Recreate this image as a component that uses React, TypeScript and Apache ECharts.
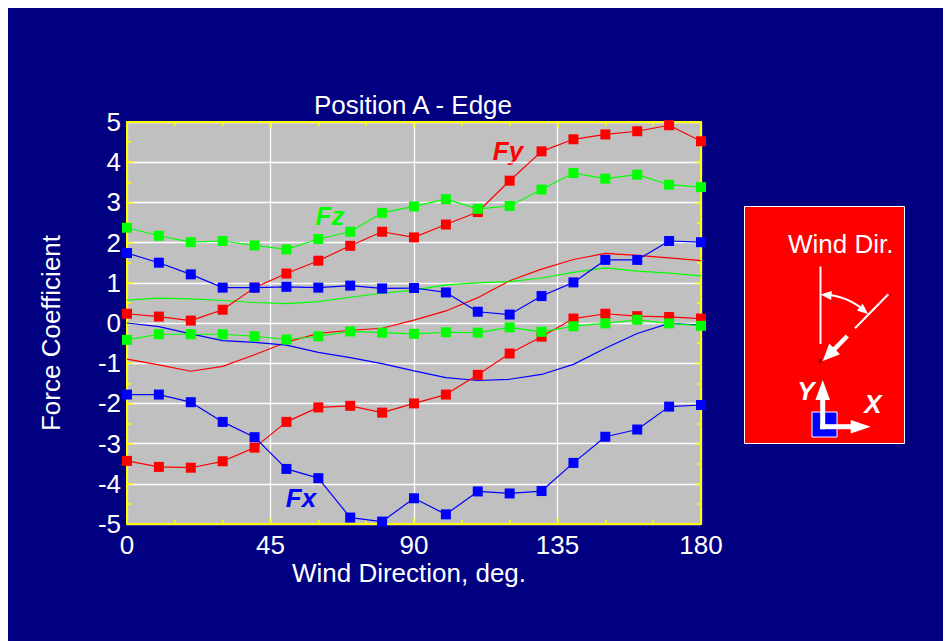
import React, { useEffect, useRef } from "react";
import * as echarts from "echarts";

// ---------- data ----------
const angles = [0, 10, 20, 30, 40, 50, 60, 70, 80, 90, 100, 110, 120, 130, 140, 150, 160, 170, 180];

const fyMax = [0.23, 0.16, 0.06, 0.33, 0.88, 1.23, 1.55, 1.92, 2.27, 2.13, 2.45, 2.76, 3.54, 4.27, 4.57, 4.69, 4.77, 4.92, 4.52];
const fyMean = [-0.9, -1.04, -1.2, -1.08, -0.79, -0.48, -0.26, -0.18, -0.13, 0.07, 0.3, 0.63, 1.05, 1.34, 1.58, 1.73, 1.68, 1.62, 1.55];
const fyMin = [-3.43, -3.58, -3.6, -3.44, -3.1, -2.46, -2.1, -2.06, -2.23, -2.0, -1.78, -1.29, -0.76, -0.34, 0.11, 0.23, 0.17, 0.15, 0.11];

const fzMax = [2.37, 2.17, 2.01, 2.04, 1.93, 1.83, 2.09, 2.27, 2.74, 2.9, 3.08, 2.84, 2.91, 3.32, 3.73, 3.59, 3.69, 3.44, 3.38];
const fzMean = [0.57, 0.62, 0.6, 0.56, 0.51, 0.48, 0.53, 0.64, 0.74, 0.82, 0.95, 1.0, 1.03, 1.12, 1.26, 1.37, 1.29, 1.24, 1.17];
const fzMin = [-0.42, -0.28, -0.28, -0.28, -0.33, -0.41, -0.33, -0.21, -0.24, -0.27, -0.23, -0.24, -0.11, -0.22, -0.08, -0.01, 0.08, -0.01, -0.07];

const fxMax = [1.74, 1.5, 1.21, 0.88, 0.88, 0.9, 0.88, 0.93, 0.86, 0.87, 0.76, 0.28, 0.21, 0.67, 1.01, 1.57, 1.57, 2.04, 2.01];
const fxMean = [0.0, -0.09, -0.27, -0.44, -0.48, -0.55, -0.73, -0.86, -1.01, -1.19, -1.36, -1.43, -1.4, -1.28, -1.03, -0.63, -0.26, -0.01, -0.05];
const fxMin = [-1.78, -1.78, -1.97, -2.46, -2.84, -3.63, -3.86, -4.84, -4.94, -4.36, -4.76, -4.19, -4.24, -4.18, -3.48, -2.83, -2.65, -2.08, -2.04];

const xTicks = { min: 0, max: 180, interval: 45 };
const yTicks = { min: -5, max: 5, interval: 1 };

const titleText = "Position A - Edge";
const xName = "Wind Direction, deg.";
const yName = "Force Coefficient";

// ---------- styles ----------
const FONT = "'Liberation Sans', Arial, Helvetica, sans-serif";
const NAVY = "#000080";
const YELLOW = "#ffff00";
const RED = "#ff0000";
const GREEN = "#00ff00";
const BLUE = "#0000ff";

function arrowHead(tx: number, ty: number, dx: number, dy: number, len: number, hw: number) {
  const n = Math.hypot(dx, dy);
  const ux = dx / n;
  const uy = dy / n;
  const bx = tx - ux * len;
  const by = ty - uy * len;
  return [
    [tx, ty],
    [bx - uy * hw, by + ux * hw],
    [bx + uy * hw, by - ux * hw],
  ];
}

function textEl(text: string, x: number, y: number, font: string, fill: string, align = "center", rotation = 0) {
  return {
    type: "text",
    x,
    y,
    rotation,
    silent: true,
    style: {
      text,
      font,
      fill,
      align,
      textAlign: align,
      verticalAlign: "middle",
      textVerticalAlign: "middle",
    },
  };
}

function buildGraphic() {
  const els: any[] = [];
  // title, axis names & series labels
  els.push(textEl(titleText, 405, 97, `26px ${FONT}`, "#ffffff"));
  els.push(textEl(xName, 401, 565, `26px ${FONT}`, "#ffffff"));
  els.push(textEl(yName, 43, 325, `26px ${FONT}`, "#ffffff", "center", Math.PI / 2));
  els.push(textEl("Fy", 500, 143, `italic bold 26px ${FONT}`, RED));
  els.push(textEl("Fz", 322, 208, `italic bold 26px ${FONT}`, GREEN));
  els.push(textEl("Fx", 293, 490, `italic bold 26px ${FONT}`, BLUE));

  // right panel
  els.push({
    type: "rect",
    silent: true,
    shape: { x: 736.5, y: 198.5, width: 160, height: 237 },
    style: { fill: RED, stroke: "#ffffff", lineWidth: 1 },
  });
  els.push(textEl("Wind Dir.", 780, 236, `26px ${FONT}`, "#ffffff", "left"));
  // reference vertical line
  els.push({
    type: "line",
    silent: true,
    shape: { x1: 812.5, y1: 258.5, x2: 812.5, y2: 336 },
    style: { stroke: "#ffffff", lineWidth: 2 },
  });
  // inclined line
  els.push({
    type: "line",
    silent: true,
    shape: { x1: 880.3, y1: 286.3, x2: 847, y2: 320.3 },
    style: { stroke: "#ffffff", lineWidth: 2 },
  });
  // angle arc
  const cx = 812.5;
  const cy = 354;
  const r = 67.5;
  const a0 = -Math.PI / 2;
  const a1 = -Math.PI / 4;
  els.push({
    type: "arc",
    silent: true,
    shape: { cx, cy, r, startAngle: a0 + 0.05, endAngle: a1 - 0.05, clockwise: true },
    style: { stroke: "#ffffff", lineWidth: 2, fill: null },
  });
  const d = 0.163;
  const t0 = [cx + r * Math.cos(a0), cy + r * Math.sin(a0)];
  const b0 = [cx + r * Math.cos(a0 + d), cy + r * Math.sin(a0 + d)];
  els.push({
    type: "polygon",
    silent: true,
    shape: { points: arrowHead(t0[0], t0[1], t0[0] - b0[0], t0[1] - b0[1], 11, 4.5) },
    style: { fill: "#ffffff" },
  });
  const t1 = [cx + r * Math.cos(a1), cy + r * Math.sin(a1)];
  const b1 = [cx + r * Math.cos(a1 - d), cy + r * Math.sin(a1 - d)];
  els.push({
    type: "polygon",
    silent: true,
    shape: { points: arrowHead(t1[0], t1[1], t1[0] - b1[0], t1[1] - b1[1], 11, 4.5) },
    style: { fill: "#ffffff" },
  });
  // wind arrow
  const wTip = [814.7, 353];
  const wTail = [839.3, 328];
  const wdx = wTip[0] - wTail[0];
  const wdy = wTip[1] - wTail[1];
  const wn = Math.hypot(wdx, wdy);
  const headLen = 17;
  els.push({
    type: "line",
    silent: true,
    shape: {
      x1: wTail[0],
      y1: wTail[1],
      x2: wTip[0] - (wdx / wn) * (headLen - 2),
      y2: wTip[1] - (wdy / wn) * (headLen - 2),
    },
    style: { stroke: "#ffffff", lineWidth: 4.5 },
  });
  els.push({
    type: "polygon",
    silent: true,
    shape: { points: arrowHead(wTip[0], wTip[1], wdx, wdy, headLen, 7.5) },
    style: { fill: "#ffffff" },
  });
  els.push({
    type: "line",
    silent: true,
    shape: { x1: 812, y1: 351, x2: 812, y2: 355 },
    style: { stroke: "#000000", lineWidth: 1 },
  });

  // coordinate system icon
  els.push({
    type: "rect",
    silent: true,
    shape: { x: 804, y: 404, width: 25, height: 25 },
    style: { fill: BLUE, stroke: "#ffffff", lineWidth: 1 },
  });
  const ox = 814.7;
  const oy = 418.7;
  els.push({
    type: "line",
    silent: true,
    shape: { x1: ox, y1: oy + 2.5, x2: ox, y2: 390 },
    style: { stroke: "#ffffff", lineWidth: 5 },
  });
  els.push({
    type: "polygon",
    silent: true,
    shape: { points: arrowHead(ox, 372, 0, -1, 20, 7.3) },
    style: { fill: "#ffffff" },
  });
  els.push({
    type: "line",
    silent: true,
    shape: { x1: ox - 2.5, y1: oy, x2: 844, y2: oy },
    style: { stroke: "#ffffff", lineWidth: 5 },
  });
  els.push({
    type: "polygon",
    silent: true,
    shape: { points: arrowHead(862.7, oy, 1, 0, 20, 6.7) },
    style: { fill: "#ffffff" },
  });
  els.push(textEl("Y", 798, 383, `italic bold 26px ${FONT}`, "#ffffff"));
  els.push(textEl("X", 865, 396, `italic bold 26px ${FONT}`, "#ffffff"));
  return els;
}

function pairs(values: number[]) {
  return angles.map((a, i) => [a, values[i]]);
}

function markedSeries(name: string, values: number[], color: string) {
  return {
    name,
    type: "line",
    data: pairs(values),
    symbol: "rect",
    symbolSize: 10,
    showSymbol: true,
    lineStyle: { color, width: 1.2 },
    itemStyle: { color },
    silent: true,
    z: 3,
  };
}

function plainSeries(name: string, values: number[], color: string) {
  return {
    name,
    type: "line",
    data: pairs(values),
    symbol: "none",
    showSymbol: false,
    lineStyle: { color, width: 1.2 },
    itemStyle: { color },
    silent: true,
    z: 2,
  };
}

function axisCommon(minorSplit: number) {
  return {
    axisLine: { show: true, onZero: false, lineStyle: { color: YELLOW, width: 2 } },
    axisTick: { show: true, inside: true, length: 6, lineStyle: { color: YELLOW, width: 1.5 } },
    minorTick: { show: true, splitNumber: minorSplit, length: 4, lineStyle: { color: YELLOW, width: 1.5 } },
  };
}

export default function App() {
  const ref = useRef<HTMLDivElement>(null);
  useEffect(() => {
    document.documentElement.style.overflow = "hidden";
    if (!ref.current) return;
    const chart = echarts.init(ref.current, undefined, { renderer: "svg" });
    chart.setOption({
      animation: false,
      backgroundColor: NAVY,
      textStyle: { fontFamily: FONT },
      grid: {
        show: true,
        left: 119,
        top: 114,
        width: 574,
        height: 402,
        backgroundColor: "#c0c0c0",
        borderWidth: 0,
        containLabel: false,
      },
      xAxis: [
        {
          type: "value",
          position: "bottom",
          ...xTicks,
          ...axisCommon(3),
          splitLine: { show: true, lineStyle: { color: "#ffffff", width: 1.3 } },
          axisLabel: { show: true, color: "#ffffff", fontSize: 26, fontFamily: FONT, margin: 8 },
        },
        {
          type: "value",
          position: "top",
          ...xTicks,
          ...axisCommon(3),
          splitLine: { show: false },
          axisLabel: { show: false },
        },
      ],
      yAxis: [
        {
          type: "value",
          position: "left",
          ...yTicks,
          ...axisCommon(2),
          splitLine: { show: true, lineStyle: { color: "#ffffff", width: 1.3 } },
          axisLabel: { show: true, color: "#ffffff", fontSize: 26, fontFamily: FONT, margin: 6 },
        },
        {
          type: "value",
          position: "right",
          ...yTicks,
          ...axisCommon(2),
          splitLine: { show: false },
          axisLabel: { show: false },
        },
      ],
      series: [
        plainSeries("Fy mean", fyMean, RED),
        plainSeries("Fz mean", fzMean, GREEN),
        plainSeries("Fx mean", fxMean, BLUE),
        markedSeries("Fy max", fyMax, RED),
        markedSeries("Fy min", fyMin, RED),
        markedSeries("Fz max", fzMax, GREEN),
        markedSeries("Fz min", fzMin, GREEN),
        markedSeries("Fx max", fxMax, BLUE),
        markedSeries("Fx min", fxMin, BLUE),
      ],
      graphic: buildGraphic(),
    });
    return () => {
      chart.dispose();
    };
  }, []);
  return <div ref={ref} style={{ width: 943, height: 633 }} />;
}
